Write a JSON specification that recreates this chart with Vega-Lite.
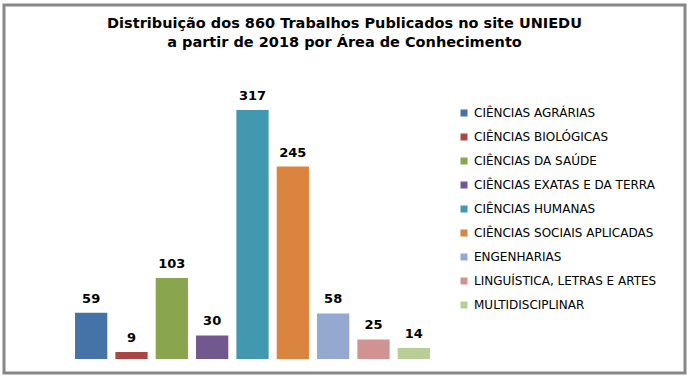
{
  "$schema": "https://vega.github.io/schema/vega-lite/v6.json",
  "autosize": {"type": "none"},
  "width": 681,
  "height": 368,
  "padding": {"left": 4, "top": 5, "right": 4, "bottom": 4},
  "background": "white",
  "config": {
    "view": {"stroke": "#878787", "strokeWidth": 3},
    "font": "DejaVu Sans"
  },
  "title": {
    "text": ["Distribuição dos 860 Trabalhos Publicados no site UNIEDU", "a partir de 2018 por Área de Conhecimento"],
    "font": "DejaVu Sans",
    "fontSize": 14.5,
    "fontWeight": "bold",
    "color": "black",
    "anchor": "middle",
    "frame": "group",
    "offset": -45,
    "lineHeight": 19
  },
  "data": {
    "values": [
      {"area": "CIÊNCIAS AGRÁRIAS", "n": 59},
      {"area": "CIÊNCIAS BIOLÓGICAS", "n": 9},
      {"area": "CIÊNCIAS DA SAÚDE", "n": 103},
      {"area": "CIÊNCIAS EXATAS E DA TERRA", "n": 30},
      {"area": "CIÊNCIAS HUMANAS", "n": 317},
      {"area": "CIÊNCIAS SOCIAIS APLICADAS", "n": 245},
      {"area": "ENGENHARIAS", "n": 58},
      {"area": "LINGUÍSTICA, LETRAS E ARTES", "n": 25},
      {"area": "MULTIDISCIPLINAR", "n": 14}
    ]
  },
  "encoding": {
    "x": {
      "field": "area",
      "type": "nominal",
      "sort": null,
      "axis": null,
      "scale": {"range": [67, 430], "paddingInner": 0.2, "paddingOuter": 0.1}
    },
    "y": {
      "field": "n",
      "type": "quantitative",
      "axis": null,
      "scale": {"domain": [-17.8, 450.7], "nice": false, "zero": false}
    }
  },
  "layer": [
    {
      "mark": {"type": "bar"},
      "encoding": {
        "y2": {"datum": 0},
        "color": {
          "field": "area",
          "type": "nominal",
          "sort": null,
          "scale": {
            "domain": ["CIÊNCIAS AGRÁRIAS", "CIÊNCIAS BIOLÓGICAS", "CIÊNCIAS DA SAÚDE", "CIÊNCIAS EXATAS E DA TERRA", "CIÊNCIAS HUMANAS", "CIÊNCIAS SOCIAIS APLICADAS", "ENGENHARIAS", "LINGUÍSTICA, LETRAS E ARTES", "MULTIDISCIPLINAR"],
            "range": ["#4572A7", "#AA4643", "#89A54E", "#71588F", "#4198AF", "#DB843D", "#93A9CF", "#D19392", "#B9CD96"]
          },
          "legend": {
            "title": null,
            "orient": "none",
            "legendX": 454,
            "legendY": 102,
            "padding": 0,
            "symbolType": "square",
            "symbolSize": 49,
            "symbolStrokeWidth": 0,
            "labelFont": "DejaVu Sans",
            "labelFontSize": 12,
            "labelColor": "black",
            "labelOffset": 4,
            "rowPadding": 12,
            "labelLimit": 300
          }
        }
      }
    },
    {
      "mark": {"type": "text", "dy": -14, "fontWeight": "bold", "fontSize": 13, "font": "DejaVu Sans", "color": "black"},
      "encoding": {"text": {"field": "n", "type": "quantitative"}}
    }
  ]
}
